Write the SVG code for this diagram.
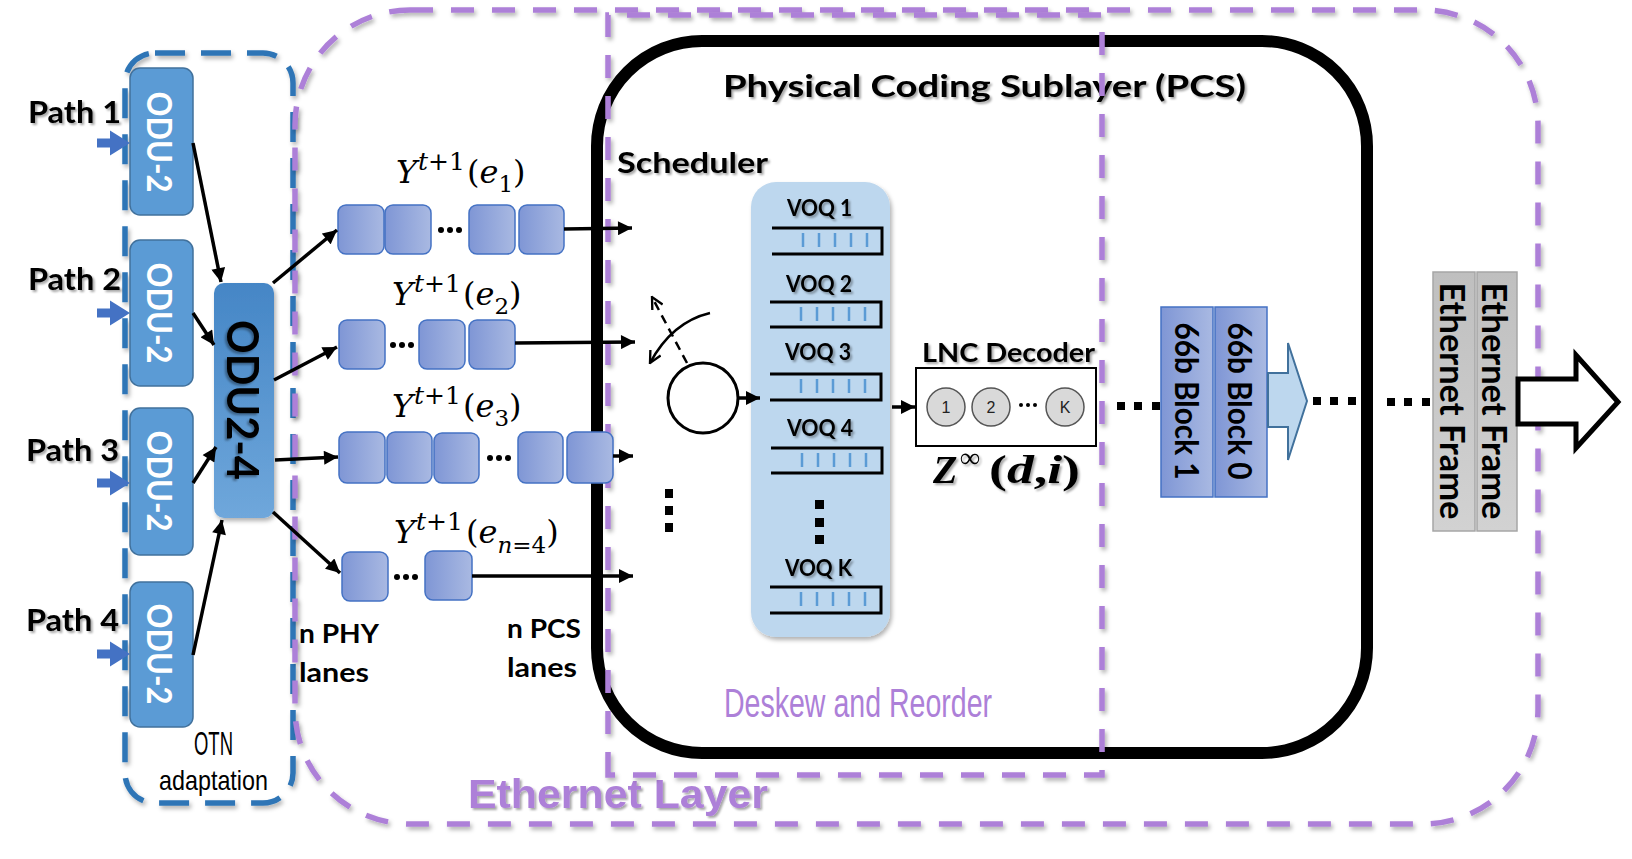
<svg xmlns="http://www.w3.org/2000/svg" width="1632" height="859" viewBox="0 0 1632 859">
<defs>
  <linearGradient id="laneG" x1="0" y1="0" x2="1" y2="0">
    <stop offset="0" stop-color="#7F96D5"/>
    <stop offset="1" stop-color="#A9B9E2"/>
  </linearGradient>
  <linearGradient id="oduG" x1="0" y1="0" x2="0" y2="1">
    <stop offset="0" stop-color="#4586C6"/>
    <stop offset="1" stop-color="#6FA7DB"/>
  </linearGradient>
  <linearGradient id="grayG" x1="0" y1="0" x2="0" y2="1">
    <stop offset="0" stop-color="#BFBFBF"/>
    <stop offset="1" stop-color="#D2D2D2"/>
  </linearGradient>
  <filter id="sh" x="-10%" y="-10%" width="120%" height="120%">
    <feDropShadow dx="2" dy="3" stdDeviation="2" flood-color="#000" flood-opacity="0.3"/>
  </filter>
  <filter id="tsh" x="-10%" y="-20%" width="120%" height="140%">
    <feDropShadow dx="2" dy="2" stdDeviation="1.2" flood-color="#000" flood-opacity="0.35"/>
  </filter>
  <marker id="ah" viewBox="0 0 10 10" refX="10" refY="5" markerWidth="15" markerHeight="14" orient="auto" markerUnits="userSpaceOnUse">
    <path d="M0,0 L10,5 L0,10 z" fill="#000"/>
  </marker>
  <marker id="oh" viewBox="0 0 12 12" refX="11" refY="6" markerWidth="14" markerHeight="14" orient="auto" markerUnits="userSpaceOnUse">
    <path d="M1,1 L11,6 L1,11" fill="none" stroke="#000" stroke-width="2"/>
  </marker>
  <style>
    .bold { font-family: Lato, "Liberation Sans", sans-serif; font-weight: 700; fill: #000; }
    .odu { fill: #5B9BD5; stroke: #41719C; stroke-width: 1.5; }
    .oduT { font-family: Lato, "Liberation Sans", sans-serif; font-weight: 700; fill: #fff; font-size: 34px; }
    .lane { fill: url(#laneG); stroke: #4472C4; stroke-width: 1.5; }
    .conn { stroke: #000; stroke-width: 3.5; fill: none; marker-end: url(#ah); }
    .bluearr { fill: #4472C4; }
    .pdash { fill: none; stroke: #AD80D8; stroke-width: 5.5; stroke-dasharray: 23 18; }
    .bdash { fill: none; stroke: #2E75B6; stroke-width: 5.5; stroke-dasharray: 30 16; }
    .math { font-family: "DejaVu Serif", "Liberation Serif", serif; fill: #000; font-size: 32px; }
    .zmath { font-family: "Liberation Serif", "DejaVu Serif", serif; fill: #000; }
    .it { font-style: italic; }
    .sup { font-size: 25px; }
    .sub { font-size: 23px; }
    .q { fill: none; stroke: #000; stroke-width: 3; }
    .tick { stroke: #5B9BD5; stroke-width: 2.5; }
    .dot { fill: #000; }
    .narrow { font-family: "Liberation Sans", sans-serif; }
    .circ { fill: #D9D9D9; stroke: #555; stroke-width: 1.5; }
    .cl { font-family: "Liberation Sans", sans-serif; font-size: 16px; fill: #222; text-anchor: middle; }
  </style>
</defs>
<rect width="1632" height="859" fill="#fff"/>

<!-- containers -->
<g id="pcs">
  <rect x="597" y="41" width="770" height="712" rx="105" ry="105" fill="none" stroke="#000" stroke-width="12"/>
  <text class="bold" x="723" y="97" font-size="31" textLength="523" lengthAdjust="spacingAndGlyphs" filter="url(#tsh)">Physical Coding Sublayer (PCS)</text>
</g>
<g id="otn">
  <rect class="bdash" x="125" y="53" width="168" height="750" rx="30" ry="30" filter="url(#sh)"/>
  <text class="narrow" x="194" y="755" font-size="34" textLength="39" lengthAdjust="spacingAndGlyphs">OTN</text>
  <text class="narrow" x="159" y="790" font-size="28" textLength="109" lengthAdjust="spacingAndGlyphs">adaptation</text>
</g>
<g id="ethernet-layer">
  <rect class="pdash" x="295" y="10" width="1243" height="814" rx="115" ry="115" filter="url(#sh)"/>
  <text class="narrow" x="468" y="808" font-size="40" font-weight="700" fill="#AD80D8" textLength="300" lengthAdjust="spacingAndGlyphs" filter="url(#tsh)">Ethernet Layer</text>
</g>
<g id="deskew">
  <path class="pdash" d="M608,775 V15 H1102 V775 Z" filter="url(#sh)"/>
  <text class="narrow" x="724" y="717" font-size="41" fill="#AD80D8" textLength="268" lengthAdjust="spacingAndGlyphs">Deskew and Reorder</text>
</g>

<!-- path labels and inputs -->
<g id="paths">
  <text class="bold" x="28" y="123" font-size="31" textLength="93" lengthAdjust="spacingAndGlyphs" filter="url(#tsh)">Path 1</text>
  <text class="bold" x="28" y="290" font-size="31" textLength="93" lengthAdjust="spacingAndGlyphs" filter="url(#tsh)">Path 2</text>
  <text class="bold" x="26" y="461" font-size="31" textLength="93" lengthAdjust="spacingAndGlyphs" filter="url(#tsh)">Path 3</text>
  <text class="bold" x="26" y="631" font-size="31" textLength="93" lengthAdjust="spacingAndGlyphs" filter="url(#tsh)">Path 4</text>
  <path class="bluearr" d="M97,138.5 H110 V130.5 L130,143 L110,155.5 V147.5 H97 Z"/>
  <path class="bluearr" d="M97,308.5 H110 V300.5 L130,313 L110,325.5 V317.5 H97 Z"/>
  <path class="bluearr" d="M97,478.5 H110 V470.5 L130,483 L110,495.5 V487.5 H97 Z"/>
  <path class="bluearr" d="M97,649.5 H110 V641.5 L130,654 L110,666.5 V658.5 H97 Z"/>
</g>

<!-- ODU-2 nodes -->
<g id="odu2-1"><rect class="odu" x="130" y="68" width="63" height="147" rx="10"/><text class="oduT" transform="translate(147,142) rotate(90)" text-anchor="middle" textLength="101" lengthAdjust="spacingAndGlyphs">ODU-2</text></g>
<g id="odu2-2"><rect class="odu" x="130" y="240" width="63" height="146" rx="10"/><text class="oduT" transform="translate(147,313) rotate(90)" text-anchor="middle" textLength="101" lengthAdjust="spacingAndGlyphs">ODU-2</text></g>
<g id="odu2-3"><rect class="odu" x="130" y="408" width="63" height="147" rx="10"/><text class="oduT" transform="translate(147,481) rotate(90)" text-anchor="middle" textLength="101" lengthAdjust="spacingAndGlyphs">ODU-2</text></g>
<g id="odu2-4b"><rect class="odu" x="130" y="582" width="63" height="145" rx="10"/><text class="oduT" transform="translate(147,654) rotate(90)" text-anchor="middle" textLength="101" lengthAdjust="spacingAndGlyphs">ODU-2</text></g>

<!-- ODU2-4 -->
<g id="odu24">
  <rect x="214" y="283" width="60" height="235" rx="10" fill="url(#oduG)" filter="url(#sh)"/>
  <text class="bold" transform="translate(227,400) rotate(90)" text-anchor="middle" font-size="43" textLength="160" lengthAdjust="spacingAndGlyphs" filter="url(#tsh)">ODU2-4</text>
</g>

<!-- lanes -->
<g id="lane1">
  <rect class="lane" x="338" y="205" width="46" height="49" rx="8"/>
  <rect class="lane" x="385" y="205" width="46" height="49" rx="8"/>
  <rect class="lane" x="469" y="205" width="46" height="49" rx="8"/>
  <rect class="lane" x="519" y="205" width="45" height="49" rx="8"/>
  <circle class="dot" cx="441" cy="230" r="3"/><circle class="dot" cx="450" cy="230" r="3"/><circle class="dot" cx="459" cy="230" r="3"/>
  <text class="math"><tspan class="it" x="396" y="183">Y</tspan><tspan class="sup it" x="418" y="170">t</tspan><tspan class="sup">+1</tspan><tspan x="467" y="183">(</tspan><tspan class="it">e</tspan><tspan class="sub" y="192">1</tspan><tspan y="183">)</tspan></text>
</g>
<g id="lane2">
  <rect class="lane" x="339" y="320" width="46" height="49" rx="8"/>
  <rect class="lane" x="419" y="320" width="46" height="49" rx="8"/>
  <rect class="lane" x="469" y="320" width="46" height="49" rx="8"/>
  <circle class="dot" cx="393" cy="345" r="3"/><circle class="dot" cx="402" cy="345" r="3"/><circle class="dot" cx="411" cy="345" r="3"/>
  <text class="math"><tspan class="it" x="392" y="305">Y</tspan><tspan class="sup it" x="414" y="292">t</tspan><tspan class="sup">+1</tspan><tspan x="463" y="305">(</tspan><tspan class="it">e</tspan><tspan class="sub" y="314">2</tspan><tspan y="305">)</tspan></text>
</g>
<g id="lane3">
  <rect class="lane" x="339" y="432" width="46" height="51" rx="8"/>
  <rect class="lane" x="387" y="432" width="45" height="51" rx="8"/>
  <rect class="lane" x="434" y="433" width="45" height="50" rx="8"/>
  <rect class="lane" x="518" y="432" width="45" height="51" rx="8"/>
  <rect class="lane" x="567" y="432" width="46" height="51" rx="8"/>
  <circle class="dot" cx="490" cy="458" r="3"/><circle class="dot" cx="499" cy="458" r="3"/><circle class="dot" cx="508" cy="458" r="3"/>
  <text class="math"><tspan class="it" x="392" y="417">Y</tspan><tspan class="sup it" x="414" y="404">t</tspan><tspan class="sup">+1</tspan><tspan x="463" y="417">(</tspan><tspan class="it">e</tspan><tspan class="sub" y="426">3</tspan><tspan y="417">)</tspan></text>
</g>
<g id="lane4">
  <rect class="lane" x="342" y="552" width="46" height="49" rx="8"/>
  <rect class="lane" x="425" y="551" width="47" height="49" rx="8"/>
  <circle class="dot" cx="397" cy="577" r="3"/><circle class="dot" cx="406" cy="577" r="3"/><circle class="dot" cx="415" cy="577" r="3"/>
  <text class="math"><tspan class="it" x="394" y="543">Y</tspan><tspan class="sup it" x="416" y="530">t</tspan><tspan class="sup">+1</tspan><tspan x="466" y="543">(</tspan><tspan class="it">e</tspan><tspan class="sub it" y="553">n</tspan><tspan class="sub" y="553">=4</tspan><tspan y="543">)</tspan></text>
</g>
<g id="lane-labels">
  <text class="bold" x="299" y="643" font-size="26" textLength="80" lengthAdjust="spacingAndGlyphs">n PHY</text>
  <text class="bold" x="299" y="682" font-size="26" textLength="70" lengthAdjust="spacingAndGlyphs">lanes</text>
  <text class="bold" x="507" y="638" font-size="26" textLength="74" lengthAdjust="spacingAndGlyphs">n PCS</text>
  <text class="bold" x="507" y="677" font-size="26" textLength="70" lengthAdjust="spacingAndGlyphs">lanes</text>
</g>

<!-- scheduler -->
<g id="scheduler">
  <text class="bold" x="617" y="173" font-size="29" textLength="151" lengthAdjust="spacingAndGlyphs" filter="url(#tsh)">Scheduler</text>
  <circle cx="703" cy="398" r="35" fill="#fff" stroke="#000" stroke-width="3"/>
  <path d="M710,313 Q672,322 650,363" fill="none" stroke="#000" stroke-width="2.5" marker-end="url(#oh)"/>
  <path d="M687,363 L652,297" fill="none" stroke="#000" stroke-width="2.5" stroke-dasharray="9 6" marker-end="url(#oh)"/>
  <rect x="665" y="489" width="8" height="9"/><rect x="665" y="506" width="8" height="9"/><rect x="665" y="523" width="8" height="9"/>
</g>

<!-- VOQ panel -->
<g id="voq">
  <rect x="751" y="182" width="139" height="455" rx="25" fill="#BDD7EE" filter="url(#sh)"/>
  <text class="bold" x="787" y="216" font-size="22" textLength="65" lengthAdjust="spacingAndGlyphs" filter="url(#tsh)">VOQ 1</text>
  <path class="q" d="M772,228 H882 V254 H772"/>
  <path class="tick" d="M803,233 V247 M819,233 V247 M835,233 V247 M851,233 V247 M867,233 V247"/>
  <text class="bold" x="786" y="292" font-size="22" textLength="66" lengthAdjust="spacingAndGlyphs" filter="url(#tsh)">VOQ 2</text>
  <path class="q" d="M770,302 H881 V327 H770"/>
  <path class="tick" d="M801,307 V321 M817,307 V321 M833,307 V321 M849,307 V321 M865,307 V321"/>
  <text class="bold" x="785" y="360" font-size="22" textLength="66" lengthAdjust="spacingAndGlyphs" filter="url(#tsh)">VOQ 3</text>
  <path class="q" d="M770,374 H881 V400 H770"/>
  <path class="tick" d="M801,379 V393 M817,379 V393 M833,379 V393 M849,379 V393 M865,379 V393"/>
  <text class="bold" x="787" y="436" font-size="22" textLength="66" lengthAdjust="spacingAndGlyphs" filter="url(#tsh)">VOQ 4</text>
  <path class="q" d="M771,448 H882 V473 H771"/>
  <path class="tick" d="M802,453 V467 M818,453 V467 M834,453 V467 M850,453 V467 M866,453 V467"/>
  <rect x="815" y="500" width="9" height="9"/><rect x="815" y="518" width="9" height="9"/><rect x="815" y="535" width="9" height="9"/>
  <text class="bold" x="785" y="576" font-size="22" textLength="67" lengthAdjust="spacingAndGlyphs" filter="url(#tsh)">VOQ K</text>
  <path class="q" d="M770,587 H881 V613 H770"/>
  <path class="tick" d="M801,592 V606 M817,592 V606 M833,592 V606 M849,592 V606 M865,592 V606"/>
</g>

<!-- LNC decoder -->
<g id="lnc">
  <text class="bold" x="922" y="362" font-size="27" textLength="173" lengthAdjust="spacingAndGlyphs" filter="url(#tsh)">LNC Decoder</text>
  <rect x="916" y="368" width="180" height="78" fill="#fff" stroke="#000" stroke-width="2"/>
  <circle class="circ" cx="946" cy="407" r="19"/><text class="cl" x="946" y="413">1</text>
  <circle class="circ" cx="991" cy="407" r="19"/><text class="cl" x="991" y="413">2</text>
  <circle class="circ" cx="1065" cy="407" r="19"/><text class="cl" x="1065" y="413">K</text>
  <circle cx="1021" cy="405" r="2"/><circle cx="1028" cy="405" r="2"/><circle cx="1035" cy="405" r="2"/>
  <text class="zmath" font-size="40" font-weight="700" filter="url(#tsh)"><tspan class="it" x="933" y="483">Z</tspan><tspan x="960" y="467" font-size="28">∞</tspan></text>
  <text class="zmath" x="989" y="483" font-size="40" font-weight="700" textLength="91" lengthAdjust="spacingAndGlyphs" filter="url(#tsh)">(<tspan class="it">d</tspan>,<tspan class="it">i</tspan>)</text>
</g>

<!-- 66b blocks -->
<g id="blocks">
  <rect class="lane" x="1161" y="307" width="52" height="190" rx="0"/>
  <rect class="lane" x="1215" y="307" width="52" height="190" rx="0"/>
  <text class="bold" transform="translate(1175,401) rotate(90)" text-anchor="middle" font-size="32" textLength="157" lengthAdjust="spacingAndGlyphs">66b Block 1</text>
  <text class="bold" transform="translate(1228,401) rotate(90)" text-anchor="middle" font-size="32" textLength="157" lengthAdjust="spacingAndGlyphs">66b Block 0</text>
  <path d="M1268,373 H1288 V343 L1307,401 L1288,460 V427 H1268 Z" fill="#BDD7EE" stroke="#41719C" stroke-width="2"/>
</g>

<!-- Ethernet frames -->
<g id="frames">
  <rect x="1433" y="272" width="42" height="259" fill="url(#grayG)" stroke="#A6A6A6" stroke-width="1.5"/>
  <rect x="1477" y="272" width="40" height="259" fill="url(#grayG)" stroke="#A6A6A6" stroke-width="1.5"/>
  <text class="bold" transform="translate(1440,401) rotate(90)" text-anchor="middle" font-size="34" textLength="237" lengthAdjust="spacingAndGlyphs">Ethernet Frame</text>
  <text class="bold" transform="translate(1482,401) rotate(90)" text-anchor="middle" font-size="34" textLength="237" lengthAdjust="spacingAndGlyphs">Ethernet Frame</text>
  <path d="M1518,379 H1576 V355 L1618,402 L1576,448 V424 H1518 Z" fill="#fff" stroke="#000" stroke-width="5"/>
</g>

<!-- connectors -->
<g id="connectors">
  <line class="conn" x1="193" y1="143" x2="221" y2="282"/>
  <line class="conn" x1="193" y1="313" x2="214" y2="345"/>
  <line class="conn" x1="193" y1="483" x2="216" y2="447"/>
  <line class="conn" x1="193" y1="655" x2="222" y2="520"/>
  <line class="conn" x1="273" y1="283" x2="337" y2="230"/>
  <line class="conn" x1="274" y1="380" x2="337" y2="347"/>
  <line class="conn" x1="275" y1="460" x2="338" y2="457"/>
  <line class="conn" x1="273" y1="512" x2="340" y2="573"/>
  <line class="conn" x1="564" y1="229" x2="632" y2="228"/>
  <line class="conn" x1="515" y1="343" x2="635" y2="342"/>
  <line class="conn" x1="613" y1="456" x2="633" y2="456"/>
  <line class="conn" x1="472" y1="576" x2="633" y2="576"/>
  <line class="conn" x1="738" y1="398" x2="760" y2="398"/>
  <line class="conn" x1="892" y1="407" x2="915" y2="407"/>
  <g class="dot">
    <rect x="1117" y="402" width="8" height="8"/><rect x="1134" y="402" width="8" height="8"/><rect x="1152" y="402" width="8" height="8"/>
    <rect x="1313" y="397" width="8" height="8"/><rect x="1330" y="397" width="8" height="8"/><rect x="1348" y="397" width="8" height="8"/>
    <rect x="1387" y="398" width="8" height="8"/><rect x="1404" y="398" width="8" height="8"/><rect x="1422" y="398" width="8" height="8"/>
  </g>
</g>
</svg>
